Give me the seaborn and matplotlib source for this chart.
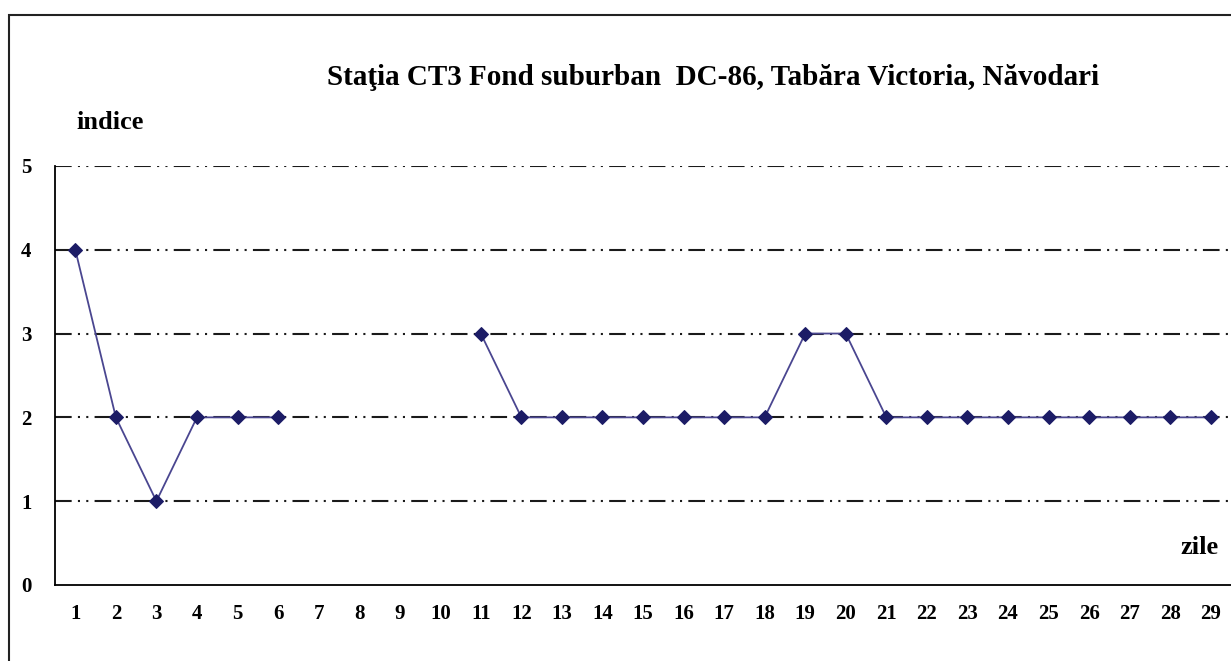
import numpy as np
import pandas as pd
import seaborn as sns
import matplotlib.pyplot as plt
from matplotlib.patches import Rectangle

### date: indicele zilnic, zilele 7-10 lipsesc
zile = list(range(1, 30))
indice = [4, 2, 1, 2, 2, 2, np.nan, np.nan, np.nan, np.nan,
          3, 2, 2, 2, 2, 2, 2, 2, 3, 3,
          2, 2, 2, 2, 2, 2, 2, 2, 2]
y_ticks = [0, 1, 2, 3, 4, 5]

titlu = "Staţia CT3 Fond suburban  DC-86, Tabăra Victoria, Năvodari"

df = pd.DataFrame({"zi": zile, "indice": indice})
### segmente separate ca linia sa se rupa la datele lipsa
df["segment"] = df["indice"].isna().cumsum()
df = df.dropna()

sns.set_style("white")
plt.rcParams["font.family"] = ["Liberation Serif", "DejaVu Serif"]
plt.rcParams["font.weight"] = "bold"
plt.rcParams["text.color"] = "black"
plt.rcParams["xtick.color"] = "black"
plt.rcParams["ytick.color"] = "black"

fig = plt.figure(figsize=(12.31, 6.61), dpi=100)
ax = fig.add_axes([0.0447, 0.115, 0.9553, 0.634])

sns.lineplot(data=df, x="zi", y="indice", units="segment", estimator=None,
             color="#4a4690", linewidth=1.3, marker="D", markersize=7.5,
             markerfacecolor="#1c1c66", markeredgecolor="#1c1c66", ax=ax)

### grila orizontala linie-punct-punct
for v in y_ticks[1:]:
    ax.axhline(v, color="#1a1a1a", linewidth=1.5,
               linestyle=(0, (8, 3, 1, 3, 1, 3)), zorder=0)

ax.set_xlim(0.5, 29.5)
ax.set_ylim(0, 5)
ax.set_yticks(y_ticks)
ax.set_xticks(zile)
ax.set_xticks(np.arange(0.5, 30, 1), minor=True)
ax.tick_params(axis="x", which="major", length=0, pad=14, labelsize=15)
ax.tick_params(axis="x", which="minor", length=5, width=1.2, direction="inout")
ax.tick_params(axis="y", length=10, width=1.2, direction="inout", pad=12, labelsize=15)
for lab in ax.get_xticklabels() + ax.get_yticklabels():
    lab.set_fontweight("bold")

for s in ["top", "right"]:
    ax.spines[s].set_visible(False)
for s in ["left", "bottom"]:
    ax.spines[s].set_linewidth(1.3)
    ax.spines[s].set_color("black")

ax.set_xlabel("")
ax.set_ylabel("")

fig.text(0.579, 0.882, titlu, ha="center", va="center", fontsize=21, fontweight="bold")
fig.text(0.062, 0.815, "indice", ha="left", va="center", fontsize=19, fontweight="bold")
fig.text(0.99, 0.171, "zile", ha="right", va="center", fontsize=19, fontweight="bold")

### chenarul exterior
fig.patches.append(Rectangle((0.0075, -0.1), 1.2, 1.078, transform=fig.transFigure,
                             fill=False, edgecolor="#222222", linewidth=1.5))

plt.savefig("out.png", dpi=100)
